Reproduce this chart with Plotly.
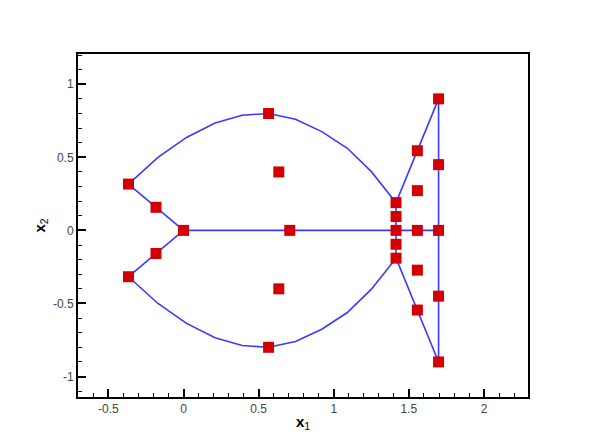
import plotly.graph_objects as go

# Boundary polylines
arc_x = [-0.366, -0.17, 0.02, 0.21, 0.39, 0.566, 0.745, 0.92, 1.09, 1.25, 1.414]
arc_upper_y = [0.317, 0.50, 0.636, 0.735, 0.788, 0.80, 0.76, 0.676, 0.562, 0.402, 0.19]
arc_lower_y = [-v for v in arc_upper_y]

wing_x = [-0.366, -0.183, 0.0]
wing_upper_y = [0.317, 0.158, 0.0]
wing_lower_y = [-0.317, -0.158, 0.0]

axis_line_x = [0.0, 1.7]
axis_line_y = [0.0, 0.0]

fan_x = [1.414, 1.556, 1.697]
fan_upper_y = [0.19, 0.545, 0.9]
fan_lower_y = [-0.19, -0.545, -0.9]

right_x = [1.697, 1.697]
right_y = [-0.9, 0.9]

inner_x = [1.414, 1.414]
inner_y = [-0.19, 0.19]

# Points
pts_x = [-0.366, -0.366, -0.183, -0.183, 0.0, 0.566, 0.566, 0.634, 0.634, 0.707,
         1.414, 1.414, 1.414, 1.414, 1.414,
         1.556, 1.556, 1.556, 1.556, 1.556,
         1.697, 1.697, 1.697, 1.697, 1.697]
pts_y = [0.317, -0.317, 0.158, -0.158, 0.0, 0.8, -0.8, 0.4, -0.4, 0.0,
         0.19, 0.095, 0.0, -0.095, -0.19,
         0.545, 0.272, 0.0, -0.272, -0.545,
         0.9, 0.45, 0.0, -0.45, -0.9]

# Tick labels
x_tickvals = [-0.5, 0, 0.5, 1, 1.5, 2]
x_ticktext = ["-0.5", "0", "0.5", "1", "1.5", "2"]
y_tickvals = [-1, -0.5, 0, 0.5, 1]
y_ticktext = ["-1", "-0.5", "0", "0.5", "1"]

line_color = "#3a3aff"
line_w = 1.6
font_fam = "Liberation Sans, Arial, sans-serif"

fig = go.Figure()
for xs, ys in [(arc_x, arc_upper_y), (arc_x, arc_lower_y),
               (wing_x, wing_upper_y), (wing_x, wing_lower_y),
               (axis_line_x, axis_line_y),
               (fan_x, fan_upper_y), (fan_x, fan_lower_y),
               (right_x, right_y), (inner_x, inner_y)]:
    fig.add_trace(go.Scatter(x=xs, y=ys, mode="lines",
                             line=dict(color=line_color, width=line_w),
                             showlegend=False, hoverinfo="skip"))

fig.add_trace(go.Scatter(x=pts_x, y=pts_y, mode="markers",
                         marker=dict(symbol="square", size=11, color="#d40000",
                                     line=dict(width=0)),
                         showlegend=False))

axis_common = dict(
    showgrid=False, zeroline=False, automargin=False,
    showline=True, linecolor="black", linewidth=2, mirror=True,
    ticks="inside", ticklen=8, tickwidth=1.5, tickcolor="black",
    tickfont=dict(family=font_fam, size=12, color="#444444"),
    minor=dict(ticks="inside", ticklen=4, dtick=0.1, tick0=0, tickcolor="black", tickwidth=1),
)

fig.update_layout(
    width=592, height=440,
    margin=dict(l=70, r=72, t=46, b=51),
    paper_bgcolor="white", plot_bgcolor="white",
    xaxis=dict(range=[-0.702, 2.292], tickmode="array",
               tickvals=x_tickvals, ticktext=x_ticktext,
               title=dict(text="<b>x</b><sub>1</sub>", standoff=1,
                          font=dict(family=font_fam, size=15, color="black")),
               **axis_common),
    yaxis=dict(range=[-1.14, 1.207], tickmode="array",
               tickvals=y_tickvals, ticktext=y_ticktext,
               title=dict(text="<b>x</b><sub>2</sub>", standoff=4,
                          font=dict(family=font_fam, size=15, color="black")),
               **axis_common),
)

fig.write_html("out.html")
